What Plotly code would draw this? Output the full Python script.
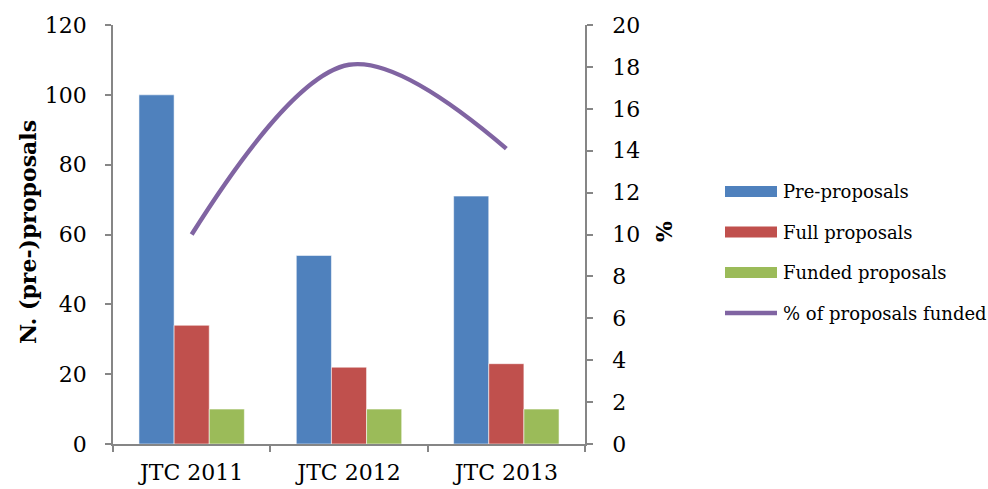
import plotly.graph_objects as go

# Joint Transnational Call rounds
calls = ["JTC 2011", "JTC 2012", "JTC 2013"]
pre_proposals = [100, 54, 71]
full_proposals = [34, 22, 23]
funded_proposals = [10, 10, 10]
pct_funded = [10.0, 18.1, 14.1]

bar_series = [
    ("Pre-proposals", pre_proposals, "#4F81BD"),
    ("Full proposals", full_proposals, "#C0504D"),
    ("Funded proposals", funded_proposals, "#9BBB59"),
]
line_name = "% of proposals funded"
line_color = "#8064A2"

FONT = "DejaVu Serif"
AXIS_GREY = "#868686"

W, H = 988, 489
L, R, T, B = 113, 403, 25, 45
PW, PH = W - L - R, H - T - B


def px_x(x):
    return (x - L) / PW


def px_y(y):
    return (H - B - y) / PH


fig = go.Figure()
for name, vals, color in bar_series:
    fig.add_trace(go.Bar(
        x=calls, y=vals, name=name,
        marker=dict(color=color, line=dict(color="rgba(255,255,255,0.55)", width=1)),
        showlegend=False,
    ))

fig.add_trace(go.Scatter(
    x=calls, y=pct_funded, name=line_name, yaxis="y2",
    mode="lines", line=dict(color=line_color, width=4.5, shape="spline", smoothing=1),
    showlegend=False,
))

axis_common = dict(
    showgrid=False, zeroline=False, showline=True, linecolor=AXIS_GREY, linewidth=1.5,
    ticks="outside", tickcolor=AXIS_GREY, ticklen=6, tickwidth=1.5,
    tickfont=dict(family=FONT, size=22, color="#000000"),
)

fig.update_layout(
    width=W, height=H,
    margin=dict(l=L, r=R, t=T, b=B, autoexpand=False),
    paper_bgcolor="white", plot_bgcolor="white",
    barmode="group", bargap=0.33, bargroupgap=0,
    font=dict(family=FONT, color="#000000"),
    xaxis=dict(**axis_common, tickson="boundaries", ticklabelstandoff=8),
    yaxis=dict(**axis_common, range=[0, 120], dtick=20, ticklabelstandoff=14),
    yaxis2=dict(**axis_common, range=[0, 20], dtick=2, overlaying="y", side="right",
                ticklabelstandoff=15),
)

# Axis titles
fig.add_annotation(
    x=px_x(28), y=px_y(232), xref="paper", yref="paper", showarrow=False,
    xanchor="center", yanchor="middle",
    text="<b>N. (pre-)proposals</b>", textangle=-90,
    font=dict(family=FONT, size=22, color="#000000"),
)
fig.add_annotation(
    x=px_x(664), y=px_y(232), xref="paper", yref="paper", showarrow=False,
    xanchor="center", yanchor="middle",
    text="<b>%</b>", textangle=-90,
    font=dict(family=FONT, size=22, color="#000000"),
)

# Legend drawn to the right of the plot
legend_font = dict(family=FONT, size=18, color="#000000")
row_y = [191.5, 232, 272.5, 313]
for (name, _, color), cy in zip(bar_series, row_y):
    fig.add_shape(
        type="rect", xref="paper", yref="paper",
        x0=px_x(725), x1=px_x(777), y0=px_y(cy + 5.5), y1=px_y(cy - 5.5),
        fillcolor=color, line=dict(width=0),
    )
    fig.add_annotation(
        x=px_x(781), y=px_y(cy), xref="paper", yref="paper", showarrow=False,
        xanchor="left", yanchor="middle", text=name, font=legend_font,
    )
fig.add_shape(
    type="line", xref="paper", yref="paper",
    x0=px_x(725), x1=px_x(777), y0=px_y(row_y[3]), y1=px_y(row_y[3]),
    line=dict(color=line_color, width=4.5),
)
fig.add_annotation(
    x=px_x(781), y=px_y(row_y[3]), xref="paper", yref="paper", showarrow=False,
    xanchor="left", yanchor="middle", text=line_name, font=legend_font,
)

fig.write_html("out.html")
